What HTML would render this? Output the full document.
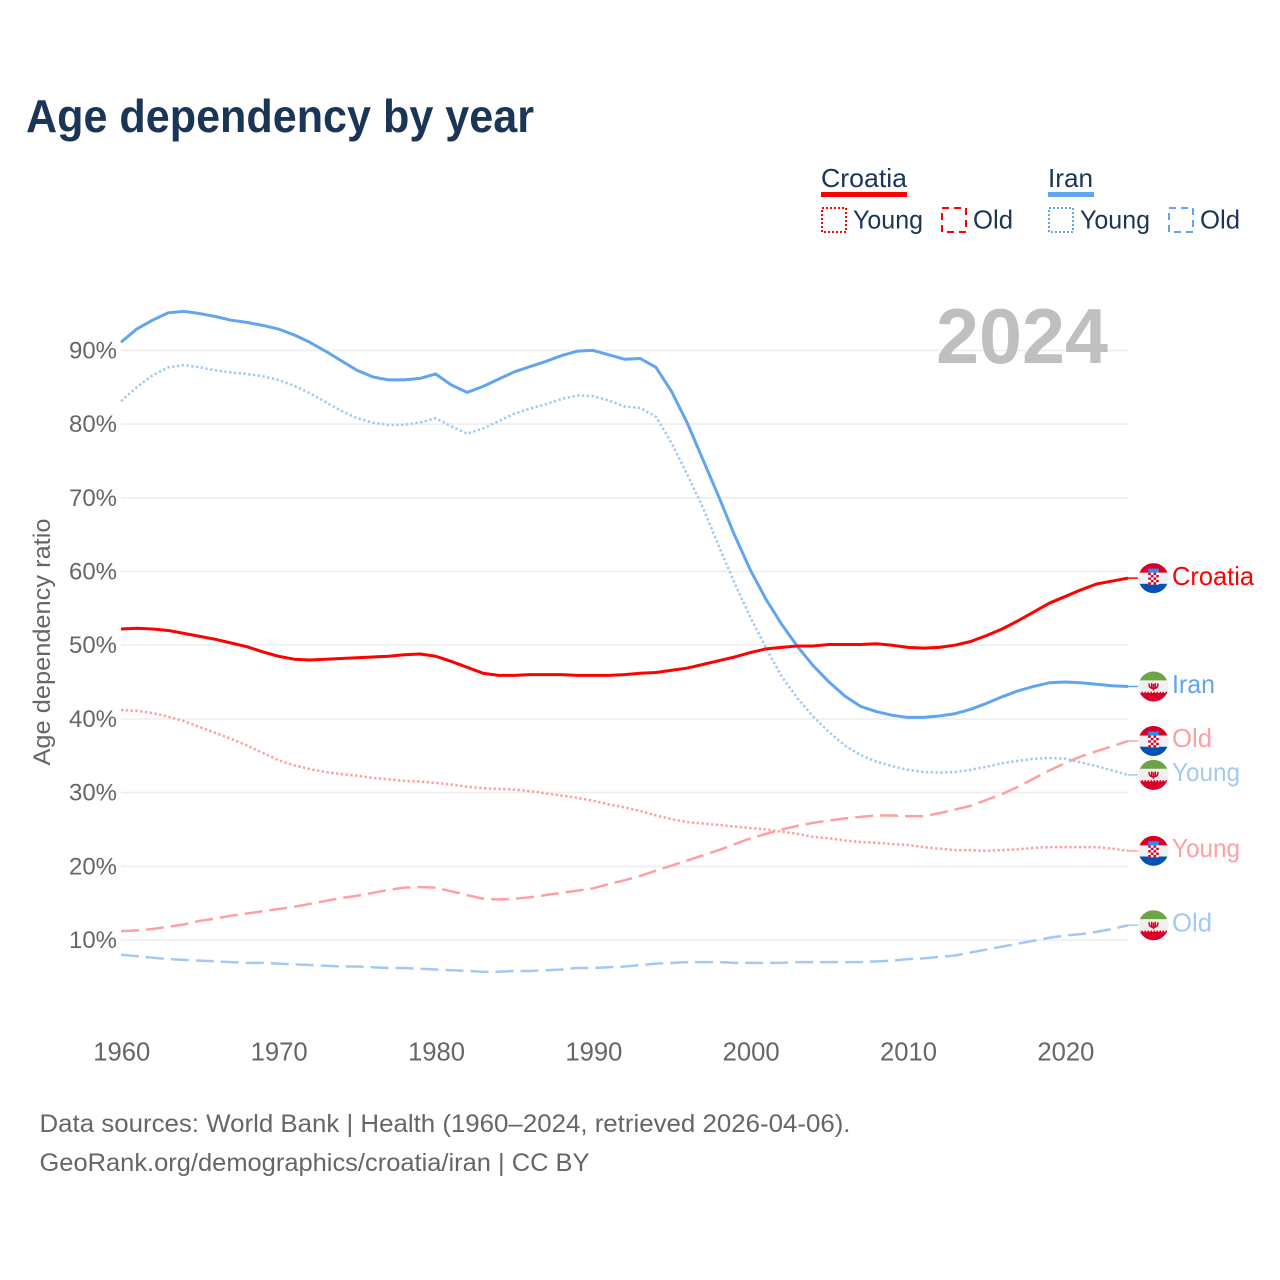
<!DOCTYPE html>
<html lang="en">
<head>
<meta charset="utf-8">
<title>Age dependency by year</title>
<style>
html,body{margin:0;padding:0;background:#fff;}
svg{display:block;font-family:"Liberation Sans",Arial,sans-serif;}
</style>
</head>
<body>
<svg id="chart" width="1280" height="1280" viewBox="0 0 1280 1280" xmlns="http://www.w3.org/2000/svg">
  <defs><clipPath id="flag-clip"><circle cx="0" cy="0" r="15"></circle></clipPath></defs>
  <rect x="0" y="0" width="1280" height="1280" fill="#ffffff"></rect>
  <text x="26" y="132" font-size="46" font-weight="700" fill="#1a3555" textLength="508" lengthAdjust="spacingAndGlyphs">Age dependency by year</text>

  <g font-size="26" fill="#1a3555">
    <text x="821" y="187" textLength="86" lengthAdjust="spacingAndGlyphs">Croatia</text>
    <rect x="821" y="192" width="86" height="5" fill="#ff0000"></rect>
    <rect x="822" y="208" width="24" height="24" fill="none" stroke="#ff0000" stroke-width="2" stroke-dasharray="2 2"></rect>
    <text x="853" y="228.5" textLength="70" lengthAdjust="spacingAndGlyphs">Young</text>
    <rect x="942" y="208" width="24" height="24" fill="none" stroke="#ff0000" stroke-width="2" stroke-dasharray="7 5"></rect>
    <text x="973" y="228.5" textLength="40" lengthAdjust="spacingAndGlyphs">Old</text>
    <text x="1048" y="187" textLength="45" lengthAdjust="spacingAndGlyphs">Iran</text>
    <rect x="1048" y="192" width="46" height="5" fill="#60a5ee"></rect>
    <rect x="1049" y="208" width="24" height="24" fill="none" stroke="#60a5ee" stroke-width="2" stroke-dasharray="2 2"></rect>
    <text x="1080" y="228.5" textLength="70" lengthAdjust="spacingAndGlyphs">Young</text>
    <rect x="1169" y="208" width="24" height="24" fill="none" stroke="#60a5ee" stroke-width="2" stroke-dasharray="7 5"></rect>
    <text x="1200" y="228.5" textLength="40" lengthAdjust="spacingAndGlyphs">Old</text>
  </g>

  <g id="grid"></g>
  <g id="yticks"></g>
  <g id="xticks"></g>
  <text x="936" y="363" font-size="78" font-weight="700" fill="#bfbfbf" textLength="172" lengthAdjust="spacingAndGlyphs">2024</text>
  <g id="series"></g>
  <g id="flags"></g>
  <g id="end-labels"></g>

  <text transform="translate(50,642) rotate(-90)" text-anchor="middle" font-size="24.5" fill="#666666" textLength="247" lengthAdjust="spacingAndGlyphs">Age dependency ratio</text>
  <text x="39.5" y="1132" font-size="25" fill="#666666" textLength="811" lengthAdjust="spacingAndGlyphs">Data sources: World Bank | Health (1960–2024, retrieved 2026-04-06).</text>
  <text x="39.5" y="1171" font-size="25" fill="#666666" textLength="550" lengthAdjust="spacingAndGlyphs">GeoRank.org/demographics/croatia/iran | CC BY</text>
</svg>
<script>
const firstYear = 1960;
const lastYear = 2024;
const xTickYears = [1960, 1970, 1980, 1990, 2000, 2010, 2020];
const yTickValues = [10, 20, 30, 40, 50, 60, 70, 80, 90];

const iranTotal = [91.1,92.9,94.1,95.1,95.3,95.0,94.6,94.1,93.8,93.4,92.9,92.1,91.1,89.9,88.6,87.3,86.4,86.0,86.0,86.2,86.8,85.3,84.3,85.1,86.1,87.1,87.8,88.5,89.3,89.9,90.0,89.4,88.8,88.9,87.7,84.4,80.1,75.1,70.1,64.9,60.2,56.2,52.8,49.8,47.2,45.0,43.1,41.7,41.0,40.5,40.2,40.2,40.4,40.7,41.3,42.1,43.0,43.8,44.4,44.9,45.0,44.9,44.7,44.5,44.4];
const iranYoung = [83.1,85.0,86.6,87.7,88.0,87.7,87.3,87.0,86.8,86.5,86.0,85.2,84.2,83.0,81.8,80.8,80.2,79.9,79.9,80.2,80.8,79.7,78.7,79.4,80.4,81.4,82.1,82.7,83.4,83.9,83.8,83.2,82.4,82.2,81.0,77.4,73.1,68.6,63.4,58.4,53.8,49.6,45.7,42.8,40.3,38.2,36.4,35.1,34.2,33.6,33.1,32.8,32.7,32.8,33.1,33.5,34.0,34.3,34.6,34.7,34.6,34.1,33.6,33.0,32.4];
const iranOld = [8.0,7.8,7.6,7.4,7.3,7.2,7.1,7.0,6.9,6.9,6.8,6.7,6.6,6.5,6.4,6.4,6.3,6.2,6.2,6.1,6.0,5.9,5.8,5.7,5.7,5.8,5.8,5.9,6.0,6.2,6.2,6.3,6.4,6.6,6.8,6.9,7.0,7.0,7.0,6.9,6.9,6.9,6.9,7.0,7.0,7.0,7.0,7.0,7.1,7.2,7.4,7.5,7.7,7.9,8.3,8.7,9.1,9.5,9.9,10.3,10.6,10.8,11.1,11.5,12.0];
const croatiaTotal = [52.2,52.3,52.2,52.0,51.6,51.2,50.8,50.3,49.8,49.1,48.5,48.1,48.0,48.1,48.2,48.3,48.4,48.5,48.7,48.8,48.5,47.8,47.0,46.2,45.9,45.9,46.0,46.0,46.0,45.9,45.9,45.9,46.0,46.2,46.3,46.6,46.9,47.4,47.9,48.4,49.0,49.5,49.7,49.9,49.9,50.1,50.1,50.1,50.2,50.0,49.7,49.6,49.7,50.0,50.5,51.3,52.2,53.3,54.5,55.7,56.6,57.5,58.3,58.7,59.1];
const croatiaYoung = [41.2,41.1,40.8,40.3,39.7,38.9,38.1,37.3,36.4,35.4,34.4,33.7,33.2,32.8,32.5,32.3,32.0,31.8,31.6,31.5,31.3,31.1,30.8,30.6,30.5,30.4,30.2,29.9,29.6,29.3,28.9,28.4,28.0,27.5,26.9,26.4,26.0,25.8,25.6,25.4,25.2,25.0,24.7,24.4,24.0,23.8,23.5,23.3,23.2,23.0,22.9,22.6,22.4,22.2,22.2,22.1,22.2,22.3,22.5,22.6,22.6,22.6,22.6,22.4,22.1];
const croatiaOld = [11.2,11.3,11.5,11.8,12.1,12.6,12.9,13.3,13.6,13.9,14.2,14.5,14.9,15.3,15.7,16.0,16.4,16.8,17.1,17.2,17.1,16.6,16.1,15.6,15.5,15.6,15.8,16.1,16.4,16.7,17.0,17.6,18.1,18.7,19.4,20.1,20.8,21.5,22.2,23.0,23.8,24.4,25.0,25.5,25.9,26.2,26.5,26.7,26.9,26.9,26.8,26.8,27.2,27.7,28.2,29.0,29.8,30.8,31.9,33.0,34.0,34.9,35.6,36.3,37.0];

const NS = 'http://www.w3.org/2000/svg';
function xScale(year) { return 121 + (year - firstYear) * (1128 - 121) / (lastYear - firstYear); }
function yScale(value) { return 940 - (value - 10) * (940 - 350.4) / 80; }
function make(tag, parent, attrs) {
  const el = document.createElementNS(NS, tag);
  for (const k in attrs) { el.setAttribute(k, attrs[k]); }
  parent.appendChild(el);
  return el;
}

const gridG = document.getElementById('grid');
const yG = document.getElementById('yticks');
yTickValues.forEach(function (v) {
  const line = make('line', gridG, { x1: xScale(firstYear), x2: xScale(lastYear), y1: yScale(v), y2: yScale(v), stroke: '#eeeeee', 'stroke-width': 1.6 });
  
  
  const label = make('text', yG, { x: 117, y: yScale(v) + 8, 'text-anchor': 'end', 'font-size': 24.5, fill: '#666666', textLength: 48, lengthAdjust: 'spacingAndGlyphs' });
  label.textContent = v + '%';
  
  
});

const xG = document.getElementById('xticks');
xTickYears.forEach(function (yr) {
  const label = make('text', xG, { x: xScale(yr) + 0.8, y: 1060.5, 'text-anchor': 'middle', 'font-size': 25.5, fill: '#666666', textLength: 57, lengthAdjust: 'spacingAndGlyphs' });
  label.textContent = yr;
  
  
});

const seriesDefs = [
  { name: 'croatia-old', values: croatiaOld, color: '#ff9fa3', width: 2.5, dash: '18 7', flag: 'croatia', label: 'Old', labelW: 40, dy: 6 },
  { name: 'croatia-young', values: croatiaYoung, color: '#ff9fa3', width: 2.5, dash: '2.4 2.4', flag: 'croatia', label: 'Young', labelW: 68, dy: 6 },
  { name: 'iran-old', values: iranOld, color: '#a3c9f3', width: 2.5, dash: '18 7', flag: 'iran', label: 'Old', labelW: 40, dy: 6 },
  { name: 'iran-young', values: iranYoung, color: '#a3c9f3', width: 2.5, dash: '2.4 2.4', flag: 'iran', label: 'Young', labelW: 68, dy: 6 },
  { name: 'iran-total', values: iranTotal, color: '#60a5ee', width: 3, dash: '', flag: 'iran', label: 'Iran', labelW: 43, dy: 6.5 },
  { name: 'croatia-total', values: croatiaTotal, color: '#ff0000', width: 3, dash: '', flag: 'croatia', label: 'Croatia', labelW: 82, dy: 7 }
];

const seriesG = document.getElementById('series');
const flagsG = document.getElementById('flags');
const labelsG = document.getElementById('end-labels');

function drawFlag(kind, cy, seriesName) {
  const g = make('g', flagsG, { transform: 'translate(1153.5,' + cy + ')' });
  
  
  const c = make('g', g, { 'clip-path': 'url(#flag-clip)' });
  make('rect', c, { x: -15, y: -15, width: 30, height: 30, fill: '#f0f0f0' });
  if (kind === 'croatia') {
    make('rect', c, { x: -15, y: -15, width: 30, height: 9.5, fill: '#d80027' });
    make('rect', c, { x: -15, y: 5.7, width: 30, height: 10, fill: '#0052b4' });
    make('rect', c, { x: -5.3, y: -9.5, width: 10.6, height: 4, fill: '#338af3' });
    make('rect', c, { x: -5.3, y: -5.5, width: 10.6, height: 12, fill: '#ffffff' });
    for (let r = 0; r < 5; r++) {
      for (let q = 0; q < 4; q++) {
        if ((r + q) % 2 === 0) {
          make('rect', c, { x: -5.3 + q * 2.65, y: -5.5 + r * 2.4, width: 2.65, height: 2.4, fill: '#d80027' });
        }
      }
    }
  } else {
    make('rect', c, { x: -15, y: -15, width: 30, height: 9, fill: '#6da544' });
    make('rect', c, { x: -15, y: 6.5, width: 30, height: 9, fill: '#d80027' });
    make('line', c, { x1: -15, x2: 15, y1: -5.5, y2: -5.5, stroke: '#f0f0f0', 'stroke-width': 1.5, 'stroke-dasharray': '1.5 1.5' });
    make('line', c, { x1: -15, x2: 15, y1: 6, y2: 6, stroke: '#d80027', 'stroke-width': 1.5, 'stroke-dasharray': '1.5 1.5' });
    make('path', c, { d: 'M-4.5 -3 Q-4.5 2 0 2 Q4.5 2 4.5 -3 M-1.8 -3.5 V2 M1.8 -3.5 V2 M0 -2.5 V4', fill: 'none', stroke: '#d80027', 'stroke-width': 1.5 });
  }
}

seriesDefs.forEach(function (s) {
  const n = s.values.length;
  let d = '';
  s.values.forEach(function (v, i) {
    d += (i ? 'L' : 'M') + xScale(firstYear + i).toFixed(2) + ' ' + yScale(v).toFixed(2);
  });
  const path = make('path', seriesG, { d: d, fill: 'none', stroke: s.color, 'stroke-width': s.width, 'stroke-linejoin': 'round' });
  if (s.dash) { path.setAttribute('stroke-dasharray', s.dash); }
  
  
  const endY = yScale(s.values[n - 1]);
  const conn = make('line', seriesG, { x1: xScale(lastYear), x2: 1138, y1: endY, y2: endY, stroke: s.color, 'stroke-width': 1.5 });
  
  
});

const flagOrder = ['croatia-total', 'iran-total', 'iran-young', 'croatia-old', 'croatia-young', 'iran-old'];
flagOrder.forEach(function (nm) {
  const s = seriesDefs.filter(function (q) { return q.name === nm; })[0];
  const endY = yScale(s.values[s.values.length - 1]);
  drawFlag(s.flag, endY, s.name);
  const t = make('text', labelsG, { x: 1172, y: endY + s.dy, 'font-size': 26, fill: s.color, textLength: s.labelW, lengthAdjust: 'spacingAndGlyphs' });
  t.textContent = s.label;
  
  
});
</script>
</body>
</html>
